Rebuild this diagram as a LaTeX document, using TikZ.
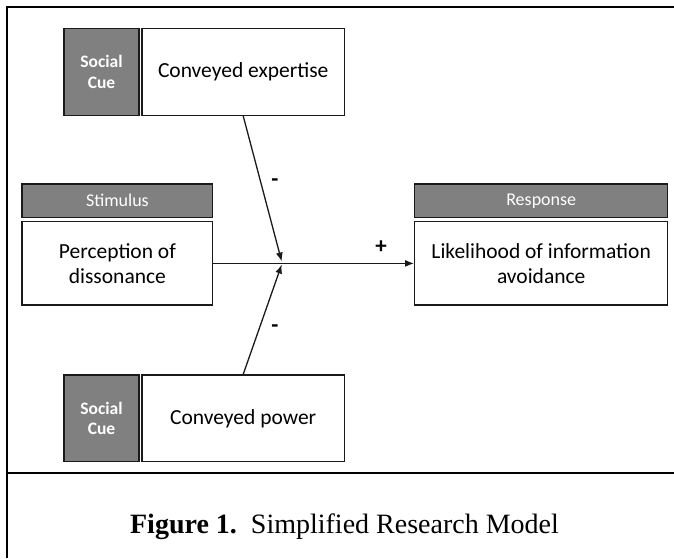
\documentclass[tikz,border=0pt]{standalone}
\usepackage{fontspec}
\setmainfont{Liberation Serif}
\newfontfamily\diag{Carlito}
\usetikzlibrary{calc,arrows.meta}
\definecolor{hdr}{HTML}{808080}
\definecolor{edge}{HTML}{1A1A1A}
\tikzset{
  box/.style={draw=edge, line width=1.3pt, fill=white, inner sep=2pt, align=center, font=\diag\fontsize{21.5}{25}\selectfont},
  cuebox/.style={draw=edge, line width=1.3pt, fill=hdr, text=white, align=center, minimum width=75pt, inner sep=1pt, font=\diag\bfseries\fontsize{17.5}{20.3}\selectfont},
  hdrbox/.style={draw=edge, line width=1.3pt, fill=hdr, text=white, minimum height=33.5pt, inner sep=1pt, font=\diag\fontsize{18}{20}\selectfont},
  arr/.style={draw=edge, line width=1.3pt, -{Latex[length=9pt,width=7pt]}},
  sign/.style={font=\diag\bfseries\fontsize{23}{25}\selectfont}
}
\begin{document}
\begin{tikzpicture}[x=1pt,y=-1pt]
\useasboundingbox (0,0) rectangle (674,558);
\draw[line width=2pt] (674,7.3) -- (6.7,7.3) -- (6.7,558);
\draw[line width=2pt] (6.7,473.3) -- (674,473.3);
% top social cue
\node[cuebox, minimum height=87pt] (cue1) at (101.5,71.8) {Social\\Cue};
\node[box, minimum width=202.3pt, minimum height=87pt] (ce) at (243.2,71.8) {Conveyed expertise};
% stimulus
\node[hdrbox, minimum width=190.7pt] (sh) at (117.4,200.75) {Stimulus};
\node[box, minimum width=190.7pt, minimum height=83.3pt] (st) at (117.4,263.4) {Perception of\\dissonance};
% response
\node[hdrbox, minimum width=253pt] (rh) at (541.2,200.75) {Response};
\node[box, minimum width=253pt, minimum height=83.3pt] (rs) at (541.2,263.4) {Likelihood of information\\avoidance};
% bottom social cue
\node[cuebox, minimum height=86.7pt] (cue2) at (101.5,418.3) {Social\\Cue};
\node[box, minimum width=202.3pt, minimum height=86.7pt] (cp) at (243.2,418.3) {Conveyed power};
% junction
\coordinate (Jt) at (281.7,261.5);
\coordinate (Jb) at (281.7,264.5);
\draw[arr] (st.east) -- (rs.west);
\draw[arr] (ce.south) -- (Jt);
\draw[arr] (cp.north) -- (Jb);
\node[sign] (m1) at (275,183) {-};
\node[sign] (m2) at (275,329) {-};
\node[sign] (p1) at (381,247.5) {+};
% caption
\node[anchor=base, inner sep=0pt] (cap) at (344.5,533) {\fontsize{28}{32}\selectfont\textbf{Figure 1.}\hspace{0.5em}Simplified Research Model};
\end{tikzpicture}
\end{document}
